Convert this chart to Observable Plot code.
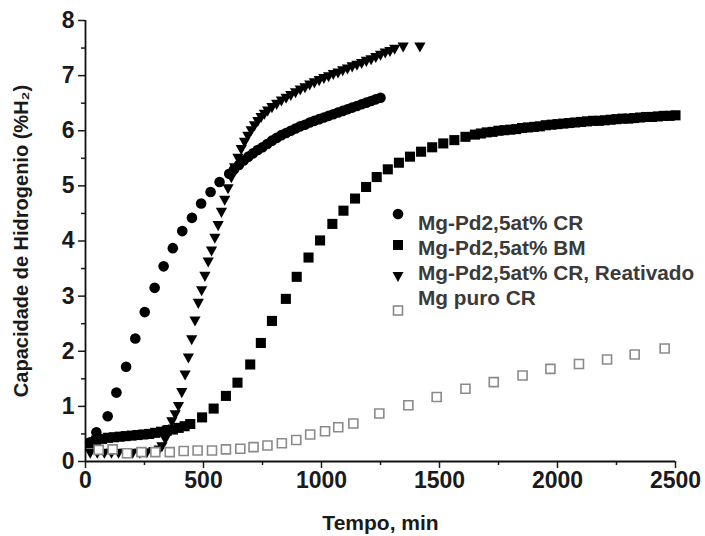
<!DOCTYPE html>
<html>
<head>
<meta charset="utf-8">
<script src="https://cdn.jsdelivr.net/npm/d3@7"></script>
<script src="https://cdn.jsdelivr.net/npm/@observablehq/plot@0.6"></script>
<style>
  html, body { margin: 0; padding: 0; background: #fff; }
  #wrap { position: relative; width: 705px; height: 536px; }
  #legend { position: absolute; left: 390px; top: 211px; font-family: "Liberation Sans", Arial, sans-serif; font-weight: bold; font-size: 20px; color: #3a3a3a; }
  #legend .row { position: relative; height: 25px; line-height: 25px; white-space: nowrap; }
  #legend .row span { display: inline-block; margin-left: 28px; transform: scaleX(1.04); transform-origin: 0 50%; }
  #legend svg { position: absolute; left: 0; top: 0; overflow: visible; }
  g[aria-label="x-axis label"] text { font-size: 21px; }
  g[aria-label="y-axis label"] text { font-size: 20px; }
</style>
</head>
<body>
<div id="wrap"><div id="legend"></div></div>
<script>
// ---- data ----
const crX = [20,46,94,131,172,211,251,293,331,370,410,451,490,530,568,609,630,650,670,690,710,730,750,770,790,810,830,850,870,890,910,930,950,970,990,1010,1030,1050,1070,1090,1110,1130,1150,1170,1190,1210,1230,1250];
const crY = [0.35,0.53,0.82,1.25,1.72,2.23,2.71,3.15,3.54,3.87,4.18,4.42,4.68,4.89,5.07,5.22,5.30,5.38,5.46,5.53,5.59,5.65,5.70,5.76,5.82,5.87,5.92,5.96,6.00,6.04,6.08,6.11,6.15,6.18,6.21,6.24,6.27,6.30,6.33,6.36,6.39,6.42,6.45,6.48,6.51,6.54,6.57,6.60];

const bmX = [20,45,70,95,120,145,170,195,220,245,270,295,320,345,370,395,420,444,494,543,595,644,698,743,790,849,895,945,994,1046,1093,1142,1189,1234,1281,1328,1375,1422,1469,1516,1563,1610,1650,1675,1700,1725,1750,1775,1800,1825,1850,1875,1900,1925,1950,1975,2000,2025,2050,2075,2100,2125,2150,2175,2200,2225,2250,2275,2300,2325,2350,2375,2400,2425,2450,2475,2500];
const bmY = [0.33,0.38,0.41,0.43,0.44,0.45,0.46,0.47,0.48,0.49,0.50,0.52,0.54,0.56,0.58,0.61,0.64,0.68,0.80,0.96,1.19,1.43,1.76,2.15,2.55,2.95,3.35,3.70,4.01,4.31,4.55,4.77,4.98,5.16,5.30,5.42,5.53,5.62,5.70,5.77,5.83,5.89,5.93,5.95,5.97,5.98,6.00,6.01,6.02,6.03,6.05,6.06,6.07,6.08,6.10,6.11,6.12,6.13,6.14,6.15,6.16,6.17,6.18,6.18,6.19,6.20,6.21,6.22,6.22,6.23,6.24,6.25,6.25,6.26,6.27,6.27,6.28];

const reX = [20,50,80,110,140,170,200,230,260,290,312,324,338,352,366,380,394,408,422,436,450,464,478,492,506,520,534,548,562,576,590,604,618,632,646,660,674,688,702,716,730,744,758,772,790,810,830,850,870,890,910,930,950,970,990,1010,1030,1050,1070,1090,1110,1130,1150,1170,1190,1210,1230,1250,1270,1290,1310,1346,1417];
const reY = [0.15,0.15,0.15,0.15,0.15,0.15,0.15,0.15,0.16,0.18,0.21,0.27,0.40,0.58,0.72,0.85,1.00,1.25,1.57,1.88,2.21,2.55,2.87,3.10,3.36,3.62,3.82,4.05,4.28,4.52,4.74,4.95,5.15,5.33,5.50,5.66,5.79,5.90,6.00,6.09,6.17,6.24,6.30,6.36,6.42,6.48,6.54,6.59,6.64,6.69,6.74,6.78,6.83,6.87,6.91,6.95,6.98,7.02,7.05,7.09,7.12,7.16,7.19,7.22,7.26,7.29,7.33,7.37,7.41,7.44,7.48,7.52,7.52];

const mgX = [56,115,176,237,296,357,416,475,536,595,656,712,771,832,893,952,1015,1071,1135,1245,1368,1488,1610,1730,1852,1970,2091,2210,2327,2454];
const mgY = [0.21,0.22,0.15,0.17,0.17,0.17,0.19,0.20,0.20,0.22,0.23,0.26,0.29,0.33,0.39,0.49,0.55,0.62,0.69,0.87,1.02,1.17,1.32,1.44,1.56,1.68,1.77,1.85,1.94,2.05];

const seriesNames = ["Mg-Pd2,5at% CR", "Mg-Pd2,5at% BM", "Mg-Pd2,5at% CR, Reativado", "Mg puro CR"];
const xTicks = [0,500,1000,1500,2000,2500];
const xMinor = [250,750,1250,1750,2250];
const yTicks = [0,1,2,3,4,5,6,7,8];
const yMinor = [0.5,1.5,2.5,3.5,4.5,5.5,6.5,7.5];
const xLabel = "Tempo, min";
const yLabel = "Capacidade de Hidrogenio (%H\u2082)";

// ---- build ----
const zip = (xs, ys) => xs.map((x, i) => ({x, y: ys[i]}));
const cr = zip(crX, crY), bm = zip(bmX, bmY), re = zip(reX, reY), mg = zip(mgX, mgY);

const triDown = { draw(ctx, size) { const r = Math.sqrt(size / Math.PI); ctx.moveTo(-r, -r * 0.8); ctx.lineTo(r, -r * 0.8); ctx.lineTo(0, r * 1.0); ctx.closePath(); } };
const sq = { draw(ctx, size) { const r = Math.sqrt(size / Math.PI); ctx.rect(-r * 0.9, -r * 0.9, r * 1.8, r * 1.8); } };

const font = "'Liberation Sans', Arial, sans-serif";
const fmt = d => String(d);
const chart = Plot.plot({
  width: 705, height: 536,
  marginLeft: 85, marginRight: 30, marginTop: 20, marginBottom: 75,
  style: { fontFamily: font, color: "#1a1a1a", background: "#fff" },
  x: { domain: [0, 2500] },
  y: { domain: [0, 8] },
  marks: [
    Plot.axisX(xMinor, { tickSize: 4, tickFormat: () => "", label: null, strokeWidth: 1.5 }),
    Plot.axisY(yMinor, { tickSize: 4, tickFormat: () => "", label: null, strokeWidth: 1.5 }),
    Plot.axisX(xTicks, { tickSize: 7, tickPadding: 3, fontSize: 23, fontWeight: "bold", strokeWidth: 1.5, tickFormat: fmt,
      label: xLabel, labelArrow: "none", labelAnchor: "center", labelOffset: 68 }),
    Plot.axisY(yTicks, { tickSize: 7, tickPadding: 4, fontSize: 23, fontWeight: "bold", strokeWidth: 1.5, tickFormat: fmt,
      label: yLabel, labelArrow: "none", labelAnchor: "center", labelOffset: 72 }),
    Plot.ruleY([0], { x1: 0, x2: 2500, stroke: "#111", strokeWidth: 1.8 }),
    Plot.ruleX([0], { y1: 0, y2: 8, stroke: "#111", strokeWidth: 1.8 }),
    Plot.dot(cr, { x: "x", y: "y", r: 5.3, symbol: "circle", fill: "#000", stroke: "none" }),
    Plot.dot(bm, { x: "x", y: "y", r: 5.6, symbol: sq, fill: "#000", stroke: "none" }),
    Plot.dot(re, { x: "x", y: "y", r: 5.6, symbol: triDown, fill: "#000", stroke: "none" }),
    Plot.dot(mg, { x: "x", y: "y", r: 5.0, symbol: sq, fill: "#fff", stroke: "#8a8a8a", strokeWidth: 1.6 })
  ]
});
document.getElementById("wrap").prepend(chart);

// legend (symbols sit a little off the text line, as in the original)
const legendSyms = [
  '<circle cx="8" cy="3" r="5.3" fill="#000"/>',
  '<rect x="3" y="4" width="10" height="10" fill="#000"/>',
  '<path d="M2.5,11 L13.5,11 L8,21 Z" fill="#000"/>',
  '<rect x="3.5" y="20" width="9" height="9" fill="#fff" stroke="#8a8a8a" stroke-width="1.6"/>'
];
const legend = document.getElementById("legend");
seriesNames.forEach((name, i) => {
  const row = document.createElement("div");
  row.className = "row";
  row.innerHTML = '<svg width="16" height="25">' + legendSyms[i] + '</svg><span>' + name + '</span>';
  legend.appendChild(row);
});
</script>
</body>
</html>
